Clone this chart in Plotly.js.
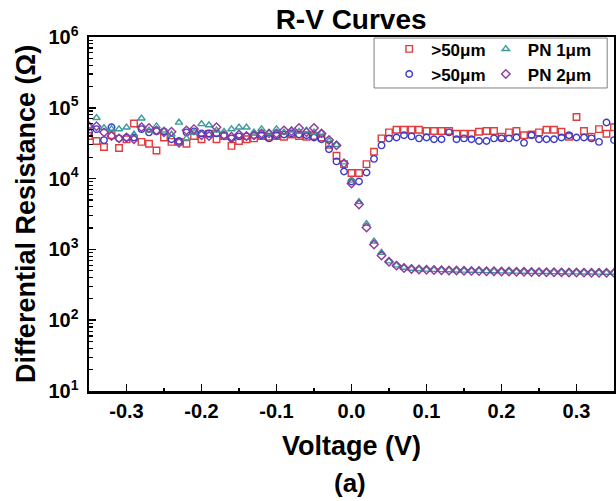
<!DOCTYPE html>
<html>
<head>
<meta charset="utf-8">
<script src="https://cdn.plot.ly/plotly-3.0.1.min.js"></script>
<style>html,body{margin:0;padding:0;background:#fff;}#chart{width:616px;height:501px;}</style>
</head>
<body>
<div id="chart"></div>
<script>
// Voltage (V)
const voltage = [-0.35,-0.34,-0.33,-0.32,-0.31,-0.30,-0.29,-0.28,-0.27,-0.26,-0.25,-0.24,-0.23,-0.22,-0.21,-0.20,-0.19,-0.18,-0.17,-0.16,-0.15,-0.14,-0.13,-0.12,-0.11,-0.10,-0.09,-0.08,-0.07,-0.06,-0.05,-0.04,-0.03,-0.02,-0.01,0.00,0.01,0.02,0.03,0.04,0.05,0.06,0.07,0.08,0.09,0.10,0.11,0.12,0.13,0.14,0.15,0.16,0.17,0.18,0.19,0.20,0.21,0.22,0.23,0.24,0.25,0.26,0.27,0.28,0.29,0.30,0.31,0.32,0.33,0.34,0.35];

// >50um (red squares)
const redSquares = [40000,34000,28000,41000,27000,36000,60000,33000,31000,25000,38000,33000,33000,31000,40000,36000,43000,36000,40000,29000,34000,36000,37000,40000,39000,40000,39000,42000,40000,39000,40000,38000,30000,21000,16000,12000,12000,16000,24000,37000,45000,49000,49000,49000,49000,47000,47000,47000,47000,43000,43000,43000,46000,47000,47000,39000,45000,47000,41000,42000,45000,49000,49000,46000,39000,74000,47000,39000,50000,43000,53000];

// >50um (blue circles)
const blueCircles = [45000,50000,35000,53000,37000,38000,38000,50000,45000,46500,46500,36000,34000,45000,46500,43500,43500,43500,41000,37000,39500,39500,41000,41000,37000,41000,42000,43500,42000,41000,38000,36000,26000,17500,12600,9100,9100,12200,19000,29500,37000,38000,41000,39500,37000,38000,36000,36000,45000,36000,37000,36000,34000,34000,37000,37000,37000,38000,32000,41000,36000,36000,36000,38000,41000,38000,38000,37000,33000,62000,35000];

// PN 1um (teal triangles)
const tealTriangles = [55000,72000,52000,50000,50000,53000,42000,71000,48000,55000,48000,42000,62000,37000,45000,59000,57000,48000,46000,50000,53000,53000,45000,50000,44000,50000,45000,48000,46000,48000,45000,44000,34000,30000,17000,9400,4700,2300,1300,900,680,598,552,536,526,520,516,512,509,506,504,501,499,496,494,492,490,488,486,484,482,481,479,478,476,475,474,473,472,471,470];

// PN 2um (purple diamonds)
const purpleDiamonds = [55000,55000,45000,40000,37000,38000,36000,53000,52000,48000,45000,46000,32000,48000,50000,41000,40000,53000,41000,39000,42000,40000,41000,43500,43500,43500,48000,46500,52000,45000,52000,43500,35000,29500,16400,8500,4300,2040,1170,820,670,590,545,530,520,515,512,508,505,502,500,497,495,492,490,488,486,484,482,480,478,477,475,474,472,471,470,469,468,467,466];

// Axis tick labels
const xTickVals = [-0.3,-0.2,-0.1,0.0,0.1,0.2,0.3];
const xTickText = ['-0.3','-0.2','-0.1','0.0','0.1','0.2','0.3'];
const xMinorVals = [-0.35,-0.25,-0.15,-0.05,0.05,0.15,0.25,0.35];
const yTickVals = [1e1,1e2,1e3,1e4,1e5,1e6];
const yTickText = ['10<sup>1</sup>','10<sup>2</sup>','10<sup>3</sup>','10<sup>4</sup>','10<sup>5</sup>','10<sup>6</sup>'];
const yMinorMultipliers = [2,3,4,5,6,7,8,9];

const yMinorVals = [];
for (let e = 1; e < 6; e++) {
  yMinorMultipliers.forEach(m => yMinorVals.push(m * Math.pow(10, e)));
}

const FONT = 'Arial, "Liberation Sans", Helvetica, sans-serif';
const mk = (symbol, color) => ({symbol: symbol, size: 6.5, color: color, line: {color: color, width: 1.4}});

const traces = [
  {x: voltage, y: redSquares, type: 'scatter', mode: 'markers', name: '>50μm',
   marker: mk('square-open', '#e03c3c'), legend: 'legend'},
  {x: voltage, y: blueCircles, type: 'scatter', mode: 'markers', name: '>50μm',
   marker: mk('circle-open', '#3a3ac8'), legend: 'legend'},
  {x: voltage, y: tealTriangles, type: 'scatter', mode: 'markers', name: 'PN 1μm',
   marker: mk('triangle-up-open', '#3a9a9a'), legend: 'legend2'},
  {x: voltage, y: purpleDiamonds, type: 'scatter', mode: 'markers', name: 'PN 2μm',
   marker: mk('diamond-open', '#8c3a9c'), legend: 'legend2'}
];

const legendCommon = {
  bgcolor: 'rgba(0,0,0,0)', borderwidth: 0,
  font: {family: FONT, size: 17, color: '#000', weight: 'bold'},
  xanchor: 'left', yanchor: 'top', tracegroupgap: 0, orientation: 'v', itemwidth: 34
};

const layout = {
  width: 616, height: 501,
  margin: {l: 89, r: 2, t: 37, b: 110},
  paper_bgcolor: '#fff', plot_bgcolor: '#fff',
  showlegend: true,
  title: {text: 'R-V Curves', font: {family: FONT, size: 28, color: '#000', weight: 'bold'},
          x: 0.57, xanchor: 'center', y: 0.962, yanchor: 'middle'},
  xaxis: {
    range: [-0.35, 0.35], tickmode: 'array', tickvals: xTickVals, ticktext: xTickText,
    ticks: 'inside', ticklen: 7, tickwidth: 1.5, tickcolor: '#000',
    minor: {tickmode: 'array', tickvals: xMinorVals, ticks: 'inside', ticklen: 3, tickwidth: 1.2, tickcolor: '#000'},
    showline: true, linewidth: 2.5, linecolor: '#000', mirror: true,
    showgrid: false, zeroline: false,
    tickfont: {family: FONT, size: 20, color: '#000', weight: 'bold'},
    ticklabelstandoff: 0,
    title: {text: 'Voltage (V)', font: {family: FONT, size: 27, color: '#000', weight: 'bold'}, standoff: 16}
  },
  yaxis: {
    type: 'log', range: [1, 6], tickmode: 'array', tickvals: yTickVals, ticktext: yTickText,
    ticks: 'inside', ticklen: 7, tickwidth: 1.5, tickcolor: '#000',
    minor: {tickmode: 'array', tickvals: yMinorVals, ticks: 'inside', ticklen: 4, tickwidth: 1.2, tickcolor: '#000'},
    showline: true, linewidth: 2.5, linecolor: '#000', mirror: true,
    showgrid: false, zeroline: false,
    tickfont: {family: FONT, size: 20, color: '#000', weight: 'bold'},
    ticklabelstandoff: 4,
    title: {text: 'Differential Resistance (Ω)', font: {family: FONT, size: 27, color: '#000', weight: 'bold'}, standoff: 5}
  },
  legend: Object.assign({}, legendCommon, {x: 0.568, y: 1.016}),
  legend2: Object.assign({}, legendCommon, {x: 0.752, y: 1.016}),
  shapes: [{type: 'rect', xref: 'paper', yref: 'paper', x0: 0.543, x1: 0.987, y0: 0.856, y1: 0.997,
            line: {color: '#808080', width: 1}, fillcolor: 'rgba(0,0,0,0)'}],
  annotations: [{text: '(a)', xref: 'paper', yref: 'paper', x: 0.497, y: -0.26,
                 xanchor: 'center', yanchor: 'middle', showarrow: false,
                 font: {family: FONT, size: 26, color: '#000', weight: 'bold'}}]
};

Plotly.newPlot('chart', traces, layout, {displayModeBar: false, staticPlot: true});
</script>
</body>
</html>
